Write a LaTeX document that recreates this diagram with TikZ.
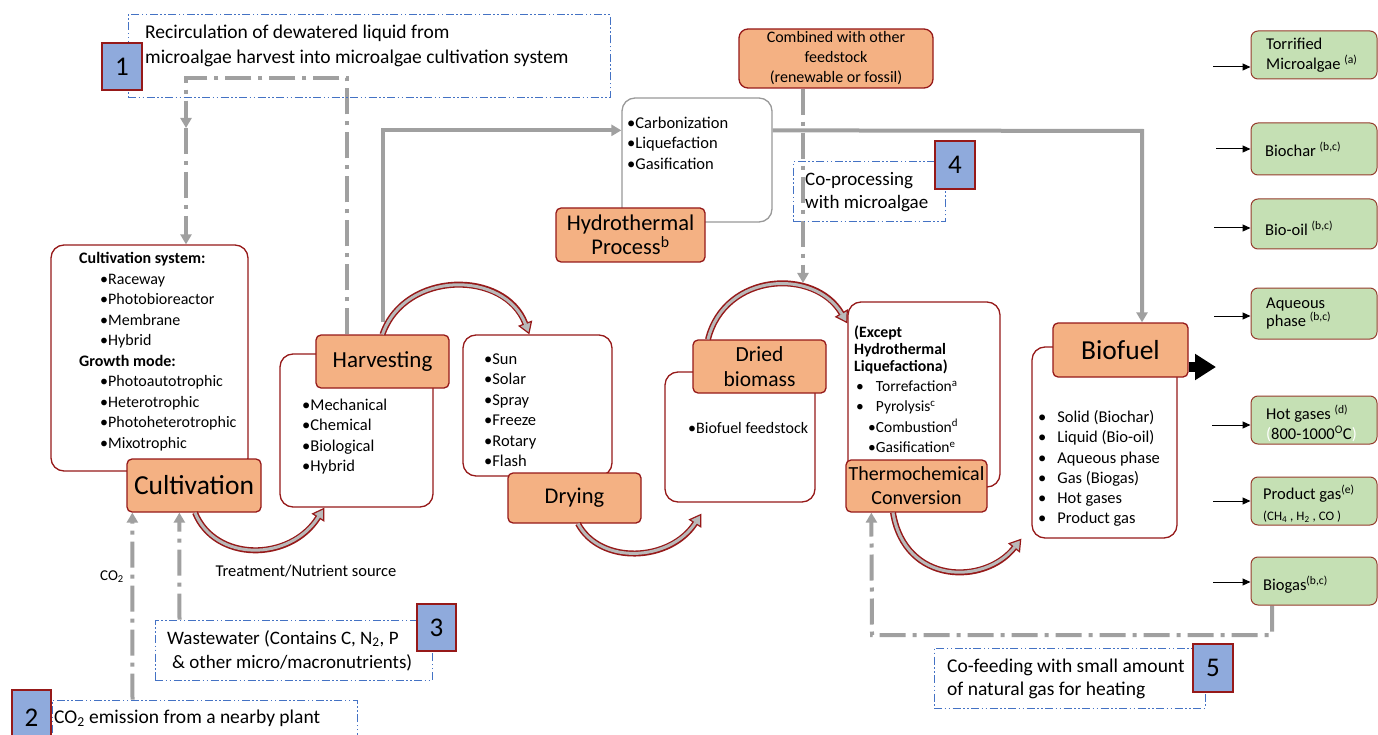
\documentclass[tikz,border=0pt]{standalone}
\usepackage{fontspec}
\setmainfont{Carlito}
\usetikzlibrary{arrows.meta}
\pgfdeclarelayer{bg}
\pgfdeclarelayer{back}
\pgfsetlayers{bg,back,main}
\definecolor{orfill}{RGB}{244,177,131}
\definecolor{bred}{RGB}{150,25,25}
\definecolor{grfill}{RGB}{197,224,180}
\definecolor{grbord}{RGB}{150,60,45}
\definecolor{nblue}{RGB}{143,170,220}
\definecolor{dblue}{RGB}{68,114,196}
\definecolor{lgray}{RGB}{160,160,160}
\definecolor{arcgray}{RGB}{185,185,185}
\newcommand\fsz[2]{\fontsize{#1}{#2}\selectfont}
\begin{document}
\begin{tikzpicture}[x=1pt,y=-1pt,
  wbox/.style={draw=bred, line width=1.3pt, rounded corners=13pt, fill=white, inner sep=0pt},
  hwbox/.style={wbox, draw=gray!80},
  lab/.style={draw=bred, line width=1.3pt, rounded corners=5pt, fill=orfill, inner sep=0pt, align=center},
  gbox/.style={draw=grbord, line width=1pt, rounded corners=7pt, fill=grfill, inner sep=0pt},
  dbox/.style={draw=dblue, line width=1pt, dash pattern=on 8pt off 2.5pt on 1.5pt off 2.5pt on 1.5pt off 2.5pt, inner sep=0pt},
  nbox/.style={draw=bred, line width=1.3pt, fill=nblue, inner sep=0pt, font=\fsz{27}{30}},
  txt/.style={inner sep=0pt, anchor=north west, align=left},
  gsolid/.style={draw=lgray, line width=4pt},
  gdd/.style={draw=lgray, line width=4pt, dash pattern=on 26pt off 7pt on 4pt off 7pt},
  gtip/.style={-{Triangle[length=10pt,width=11pt]}},
  arcout/.style={draw=bred, line width=6pt, -{Triangle[length=12pt,width=15pt,line width=1.2pt,fill=arcgray]}},
  arcin/.style={draw=arcgray, line width=3pt, shorten >=10.5pt},
  thinarr/.style={draw=black, line width=1pt, -{Triangle[length=8pt,width=7pt]}}
]
\useasboundingbox (0,0) rectangle (1378,735);
\begin{pgfonlayer}{bg}
\fill[white] (0,0) rectangle (1378,735);
\end{pgfonlayer}

% dashed note boxes
\node[dbox, minimum width=482pt, minimum height=83pt] (b1) at (369,56.5) {};
\node[dbox, minimum width=305pt, minimum height=50pt] (b2) at (204.5,725) {};
\node[dbox, minimum width=277pt, minimum height=60pt] (b3) at (293.5,650) {};
\node[dbox, minimum width=152pt, minimum height=60pt] (b4) at (869,192) {};
\node[dbox, minimum width=271pt, minimum height=60pt] (b5) at (1069.5,678) {};

% white boxes
\node[wbox, minimum width=197pt, minimum height=226pt] (cultbox) at (149.5,358) {};
\node[wbox, minimum width=153pt, minimum height=153pt] (harvbox) at (356.5,430.5) {};
\node[wbox, minimum width=149pt, minimum height=141pt] (drybox) at (537.5,405.5) {};
\node[wbox, minimum width=150pt, minimum height=130pt] (driedbox) at (740,437) {};
\node[wbox, minimum width=152pt, minimum height=185pt] (thermobox) at (924,394.5) {};
\node[hwbox, minimum width=150pt, minimum height=124pt] (hbox) at (697,160) {};
\node[wbox, minimum width=145pt, minimum height=191pt] (bfbox) at (1104.5,442.5) {};

% orange labels
\node[lab, minimum width=134pt, minimum height=53pt, font=\fsz{27.5}{30}] (cult) at (194,485.5) {Cultivation};
\node[lab, minimum width=133pt, minimum height=53pt, font=\fsz{23}{26}] (harv) at (382.5,361.5) {Harvesting};
\node[lab, minimum width=133pt, minimum height=50pt, font=\fsz{22.5}{25}] (dry) at (574.5,498) {Drying};
\node[lab, minimum width=133pt, minimum height=53pt, font=\fsz{21.5}{25}] (dried) at (759.5,366.5) {Dried\\biomass};
\node[lab, minimum width=141pt, minimum height=52pt, font=\fsz{20}{24}] (thermo) at (916.5,486) {Thermochemical\\Conversion};
\node[lab, minimum width=149pt, minimum height=54pt, font=\fsz{22.5}{24}] (hlab) at (630.5,235) {Hydrothermal\\Process\textsuperscript{b}};
\node[lab, minimum width=194pt, minimum height=59pt, rounded corners=9pt, font=\fsz{16}{20}] (comb) at (836,58.5) {Combined with other\\feedstock\\(renewable or fossil)};
\node[lab, minimum width=135pt, minimum height=54pt, font=\fsz{27.5}{30}] (bflab) at (1120.5,350) {Biofuel};

% green product boxes
\node[gbox, minimum width=126pt, minimum height=48pt] (g1) at (1314,55) {};
\node[gbox, minimum width=126pt, minimum height=52pt] (g2) at (1314,149) {};
\node[gbox, minimum width=126pt, minimum height=50pt] (g3) at (1314,224) {};
\node[gbox, minimum width=126pt, minimum height=51pt] (g4) at (1314,313.5) {};
\node[gbox, minimum width=126pt, minimum height=48pt] (g5) at (1314,420) {};
\node[gbox, minimum width=126pt, minimum height=48pt] (g6) at (1314,501) {};
\node[gbox, minimum width=126pt, minimum height=48pt] (g7) at (1314,581) {};

% free ends
\coordinate (r1) at (347,78);
\coordinate (r2) at (186,78);
\coordinate (rm) at (186,128);
\coordinate (hc) at (1142,131);
\coordinate (cofeed) at (803,283);
\coordinate (l1) at (1272,635);
\coordinate (l2) at (872,635);
\coordinate (bigtip) at (1216,367);
\coordinate (s1) at (383,322);

% gray connectors (behind)
\begin{pgfonlayer}{back}
\draw[gdd, gtip] ([xshift=-35.5pt]harv.north) -- (r1) -- (r2) -- (rm);
\draw[gdd, gtip] (rm) -- ([xshift=36.5pt]cultbox.north);
\draw[gsolid, gtip] (s1) |- ([yshift=-33pt]hbox.north west);
\draw[gsolid, gtip] ([yshift=-33pt]hbox.north east) -- (hc) -- ([xshift=21.5pt]bflab.north);
\draw[gdd, gtip] ([xshift=-33pt]comb.south) -- (cofeed);
\draw[gdd, gtip] ([xshift=81pt]b2.north west) -- ([xshift=6pt]cult.south west);
\draw[gdd, gtip] ([xshift=25pt]b3.north west) -- ([xshift=53pt]cult.south west);
\draw[gdd, gtip] ([xshift=-42pt]g7.south) -- (l1) -- (l2) -- ([xshift=26pt]thermo.south west);
\end{pgfonlayer}

% texts in boxes
\node[txt, font=\fsz{19.5}{25}] (b1t) at (145,25) {Recirculation of dewatered liquid from\\microalgae harvest into microalgae cultivation system};
\node[txt, font=\fsz{19.5}{24}] (b2t) at (54,710) {CO\textsubscript{2} emission from a nearby plant};
\node[txt, font=\fsz{19}{24}] (b3t) at (167,630) {Wastewater (Contains C, N\textsubscript{2}, P\\\hspace*{5pt}\& other micro/macronutrients)};
\node[txt, font=\fsz{19}{23}] (b4t) at (805,172) {Co-processing\\with microalgae};
\node[txt, font=\fsz{19.5}{23}] (b5t) at (947,659) {Co-feeding with small amount\\of natural gas for heating};

\node[txt, font=\fsz{16}{20.5}] (cultt) at (79,252.5) {\textbf{Cultivation system:}\\
\hspace*{21pt}\textbullet Raceway\\
\hspace*{21pt}\textbullet Photobioreactor\\
\hspace*{21pt}\textbullet Membrane\\
\hspace*{21pt}\textbullet Hybrid\\
\textbf{Growth mode:}\\
\hspace*{21pt}\textbullet Photoautotrophic\\
\hspace*{21pt}\textbullet Heterotrophic\\
\hspace*{21pt}\textbullet Photoheterotrophic\\
\hspace*{21pt}\textbullet Mixotrophic};
\node[txt, font=\fsz{16.5}{20.5}] (harvt) at (302,398.5) {\textbullet Mechanical\\\textbullet Chemical\\\textbullet Biological\\\textbullet Hybrid};
\node[txt, font=\fsz{16.5}{20.4}] (dryt) at (484,353.5) {\textbullet Sun\\\textbullet Solar\\\textbullet Spray\\\textbullet Freeze\\\textbullet Rotary\\\textbullet Flash};
\node[txt, font=\fsz{16}{20}] (driedt) at (688,422.5) {\textbullet Biofuel feedstock};
\node[txt, font=\fsz{15.8}{17}\bfseries] (thermot1) at (854,325.5) {(Except\\Hydrothermal\\Liquefactiona)};
\node[txt, font=\fsz{15.5}{20.3}] (thermot2) at (856,380.5) {\textbullet\hspace{12pt}Torrefaction\textsuperscript{a}\\
\textbullet\hspace{12pt}Pyrolysis\textsuperscript{c}\\
\hspace*{12pt}\textbullet Combustion\textsuperscript{d}\\
\hspace*{12pt}\textbullet Gasification\textsuperscript{e}};
\node[txt, font=\fsz{16.5}{20.5}] (ht) at (627,116.5) {\textbullet Carbonization\\\textbullet Liquefaction\\\textbullet Gasification};
\node[txt, font=\fsz{16.5}{20.2}] (bft) at (1038,410.5) {\textbullet\hspace{11pt}Solid (Biochar)\\
\textbullet\hspace{11pt}Liquid (Bio-oil)\\
\textbullet\hspace{11pt}Aqueous phase\\
\textbullet\hspace{11pt}Gas (Biogas)\\
\textbullet\hspace{11pt}Hot gases\\
\textbullet\hspace{11pt}Product gas};

% green texts
\node[txt, font=\fsz{16.5}{20}] (g1t) at (1266,38) {Torrified\\Microalgae \textsuperscript{(a)}};
\node[txt, font=\fsz{16.5}{20}] (g2t) at (1265,142) {Biochar \textsuperscript{(b,c)}};
\node[txt, font=\fsz{16.5}{20}] (g3t) at (1265,221) {Bio-oil \textsuperscript{(b,c)}};
\node[txt, font=\fsz{16.5}{18}] (g4t) at (1266,298) {Aqueous\\phase \textsuperscript{(b,c)}};
\node[txt, font=\fsz{16.5}{20}] (g5t) at (1266,405) {Hot gases \textsuperscript{(d)}\\{\color{white}(}800-1000\textsuperscript{O}C{\color{white})}};
\node[txt, font=\fsz{16.5}{21}] (g6t) at (1263,485) {Product gas\textsuperscript{(e)}\\{\fsz{13}{14}(CH\textsubscript{4} , H\textsubscript{2} , CO )}};
\node[txt, font=\fsz{16.5}{20}] (g7t) at (1263,576) {Biogas\textsuperscript{(b,c)}};

% free labels
\node[inner sep=0pt, font=\fsz{15}{16}] (co2) at (112,577) {CO\textsubscript{2}};
\node[inner sep=0pt, font=\fsz{16.5}{18}] (treat) at (306,571) {Treatment/Nutrient source};

% number boxes
\node[nbox, minimum width=40pt, minimum height=47pt] (n1) at (122,66.5) {1};
\node[nbox, minimum width=39pt, minimum height=55pt] (n2) at (31.5,717.5) {2};
\node[nbox, minimum width=39pt, minimum height=47pt] (n3) at (436.5,627.5) {3};
\node[nbox, minimum width=40pt, minimum height=48pt] (n4) at (955,165) {4};
\node[nbox, minimum width=40pt, minimum height=48pt] (n5) at (1213,668) {5};

% arrows to products
\coordinate (t1) at (1213,67);
\coordinate (t2) at (1216,149);
\coordinate (t3) at (1214,228);
\coordinate (t4) at (1214,316);
\coordinate (t5) at (1212,425);
\coordinate (t6) at (1213,501);
\coordinate (t7) at (1213,582);
\draw[thinarr] (t1) -- (g1.west |- t1);
\draw[thinarr] (t2) -- (g2.west |- t2);
\draw[thinarr] (t3) -- (g3.west |- t3);
\draw[thinarr] (t4) -- (g4.west |- t4);
\draw[thinarr] (t5) -- (g5.west |- t5);
\draw[thinarr] (t6) -- (g6.west |- t6);
\draw[thinarr] (t7) -- (g7.west |- t7);

% big black arrow out of Biofuel
\draw[black, line width=10pt, -{Triangle[length=21pt,width=25pt]}] ([yshift=-17pt]bflab.east) -- (bigtip);

% process arcs
\draw[arcout] ([xshift=1pt]cult.south) .. controls (215,562) and (290,562) .. ([xshift=45pt]harvbox.south west);
\draw[arcin]  ([xshift=1pt]cult.south) .. controls (215,562) and (290,562) .. ([xshift=45pt]harvbox.south west);
\draw[arcout] (harv.north) .. controls (405,270) and (505,270) .. ([xshift=67pt]drybox.north west);
\draw[arcin]  (harv.north) .. controls (405,270) and (505,270) .. ([xshift=67pt]drybox.north west);
\draw[arcout] ([xshift=3.5pt]dry.south) .. controls (600,565) and (670,562) .. ([xshift=37pt,yshift=-11pt]driedbox.south west);
\draw[arcin]  ([xshift=3.5pt]dry.south) .. controls (600,565) and (670,562) .. ([xshift=37pt,yshift=-11pt]driedbox.south west);
\draw[arcout] ([xshift=-51.5pt]dried.north) .. controls (725,272) and (815,268) .. ([yshift=-22pt]thermobox.north west);
\draw[arcin]  ([xshift=-51.5pt]dried.north) .. controls (725,272) and (815,268) .. ([yshift=-22pt]thermobox.north west);
\draw[arcout] ([xshift=-23.5pt]thermo.south) .. controls (905,585) and (985,585) .. ([xshift=-10pt]bfbox.south west);
\draw[arcin]  ([xshift=-23.5pt]thermo.south) .. controls (905,585) and (985,585) .. ([xshift=-10pt]bfbox.south west);
\end{tikzpicture}
\end{document}
